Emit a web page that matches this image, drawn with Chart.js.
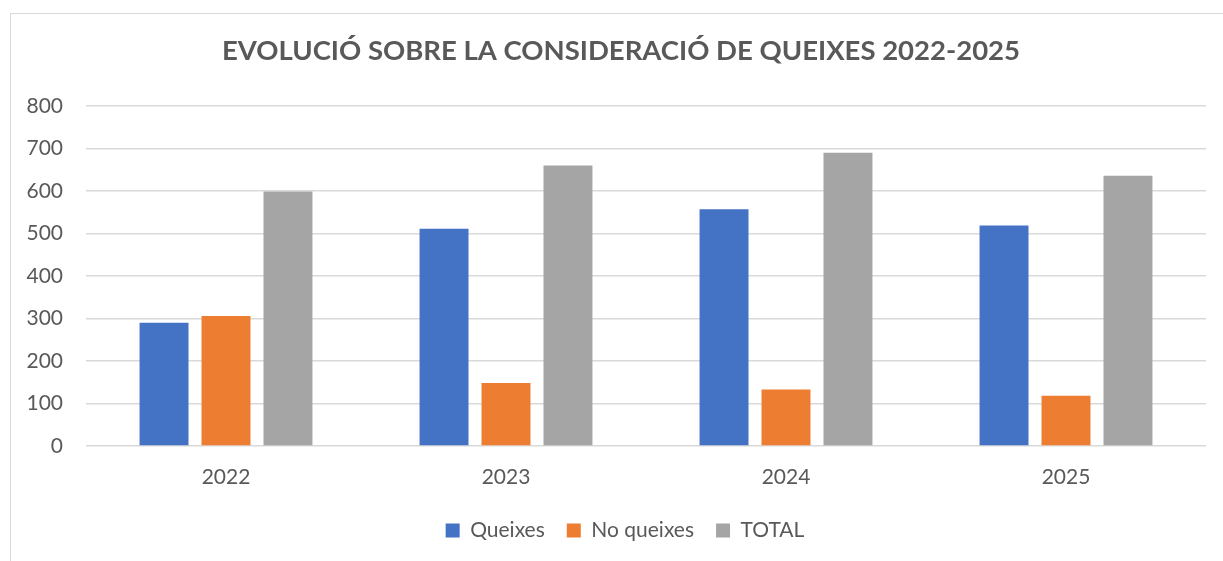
<!DOCTYPE html>
<html>
<head>
<meta charset="utf-8">
<script src="https://cdn.jsdelivr.net/npm/chart.js@4.4.1/dist/chart.umd.min.js"></script>
<style>
  html, body { margin: 0; padding: 0; background: #fff; }
  #wrap { position: relative; width: 1223px; height: 561px; }
  #frame { position: absolute; left: 10px; top: 13px; right: -5px; bottom: -5px; border-left: 1.5px solid #d9d9d9; border-top: 1.5px solid #d9d9d9; }
  canvas { position: absolute; left: 0; top: 0; }
</style>
</head>
<body>
<div id="wrap">
  <div id="frame"></div>
  <canvas id="chart" width="1223" height="561"></canvas>
</div>
<script>
// dades del gràfic
const years = ['2022', '2023', '2024', '2025'];
const queixes = [290, 511, 557, 519];
const noQueixes = [306, 148, 133, 118];
const total = [599, 660, 690, 636];
const yTicks = [0, 100, 200, 300, 400, 500, 600, 700, 800];

const textColor = '#595959';
const fontFamily = 'Lato, "Open Sans", sans-serif';

const ctx = document.getElementById('chart');

const chartData = {
  labels: years,
  datasets: [
    { label: 'Queixes', data: queixes, backgroundColor: '#4472C4' },
    { label: 'No queixes', data: noQueixes, backgroundColor: '#ED7D31' },
    { label: 'TOTAL', data: total, backgroundColor: '#A5A5A5' },
  ],
};

// centra el títol i la llegenda com a l'original (una mica a la dreta)
const shiftBlocks = {
  id: 'shiftBlocks',
  afterLayout(chart) {
    if (chart.titleBlock) {
      chart.titleBlock.left += 18;
      chart.titleBlock.right += 18;
    }
    if (chart.legend) {
      chart.legend.left += 22;
      chart.legend.right += 22;
    }
  },
};

new Chart(ctx, {
  type: 'bar',
  data: chartData,
  plugins: [shiftBlocks],
  options: {
    responsive: false,
    animation: false,
    devicePixelRatio: 1,
    layout: { padding: { top: 35, right: 17, bottom: 10, left: 0 } },
    datasets: {
      bar: { categoryPercentage: 0.664, barPercentage: 0.79 },
    },
    plugins: {
      title: {
        display: true,
        text: 'EVOLUCIÓ SOBRE LA CONSIDERACIÓ DE QUEIXES 2022-2025',
        color: textColor,
        font: { family: fontFamily, size: 27.5, weight: 'bold' },
        padding: { top: 0, bottom: 38 },
      },
      legend: {
        position: 'bottom',
        labels: {
          color: textColor,
          font: { family: fontFamily, size: 21 },
          boxWidth: 14,
          boxHeight: 14,
          padding: 22,
        },
      },
      tooltip: { enabled: false },
    },
    scales: {
      x: {
        grid: { display: false },
        border: { display: false },
        ticks: { color: textColor, font: { family: fontFamily, size: 21 }, padding: 11 },
        afterFit: (scale) => { scale.height = 52; },
      },
      y: {
        min: 0,
        max: 800,
        afterBuildTicks: (scale) => { scale.ticks = yTicks.map((v) => ({ value: v })); },
        grid: { color: '#d9d9d9', lineWidth: 1.5, drawTicks: false },
        border: { display: false },
        ticks: { color: textColor, font: { family: fontFamily, size: 21 }, padding: 23 },
        afterFit: (scale) => { scale.width = 86; },
      },
    },
  },
});
</script>
</body>
</html>
